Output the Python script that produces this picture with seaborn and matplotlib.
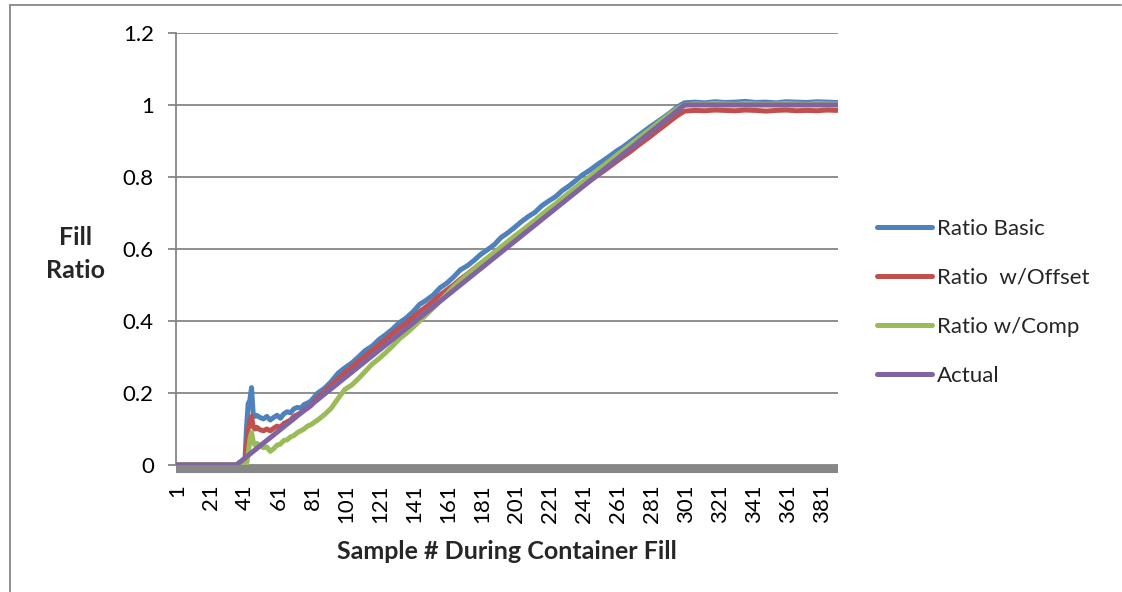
import numpy as np
import pandas as pd
import matplotlib
matplotlib.use("Agg")
import matplotlib.pyplot as plt
import seaborn as sns
from matplotlib.lines import Line2D

# ---------------- data ----------------
sample_idx = ([1, 40, 41, 42, 43, 44, 45, 46, 47, 48, 50, 52, 54, 56, 58, 60, 62, 64, 66, 68,
               70, 72, 74, 76, 78, 80]
              + list(range(84, 301, 4))
              + list(range(306, 391, 6)))

ratio_basic = [0, 0, 0, 0.10, 0.17, 0.18, 0.215, 0.14, 0.135, 0.138, 0.132, 0.128, 0.135, 0.125,
               0.132, 0.138, 0.130, 0.142, 0.148, 0.145, 0.156, 0.160, 0.158, 0.168, 0.172, 0.178,
               0.200, 0.213, 0.232, 0.255, 0.270, 0.283, 0.300, 0.318, 0.330, 0.348, 0.362, 0.377,
               0.395, 0.408, 0.425, 0.446, 0.458, 0.472, 0.492, 0.505, 0.522, 0.542, 0.553, 0.568,
               0.585, 0.598, 0.612, 0.632, 0.645, 0.660, 0.676, 0.690, 0.702, 0.720, 0.733, 0.745,
               0.762, 0.775, 0.790, 0.806, 0.818, 0.832, 0.845, 0.858, 0.872, 0.884, 0.898, 0.912,
               0.926, 0.940, 0.953, 0.966, 0.980, 0.995, 1.006,
               1.008, 1.006, 1.009, 1.007, 1.008, 1.010, 1.007, 1.008, 1.006, 1.009, 1.008, 1.007,
               1.009, 1.008, 1.007]

ratio_offset = [0, 0, 0, 0.05, 0.10, 0.12, 0.135, 0.105, 0.100, 0.105, 0.098, 0.095, 0.100, 0.095,
                0.102, 0.108, 0.105, 0.115, 0.120, 0.125, 0.135, 0.140, 0.145, 0.152, 0.158, 0.165,
                0.187, 0.203, 0.222, 0.240, 0.256, 0.272, 0.288, 0.303, 0.318, 0.334, 0.348, 0.365,
                0.380, 0.394, 0.410, 0.426, 0.440, 0.455, 0.472, 0.486, 0.500, 0.516, 0.530, 0.545,
                0.560, 0.574, 0.590, 0.603, 0.618, 0.633, 0.647, 0.662, 0.676, 0.690, 0.704, 0.718,
                0.733, 0.746, 0.760, 0.775, 0.788, 0.802, 0.815, 0.829, 0.843, 0.857, 0.870, 0.885,
                0.899, 0.913, 0.928, 0.942, 0.957, 0.971, 0.983,
                0.985, 0.984, 0.986, 0.985, 0.984, 0.986, 0.985, 0.983, 0.985, 0.986, 0.984, 0.985,
                0.984, 0.986, 0.985]

ratio_comp = [0, 0, 0, 0, 0.03, 0.07, 0.09, 0.065, 0.055, 0.060, 0.055, 0.048, 0.050, 0.038,
              0.045, 0.055, 0.058, 0.068, 0.070, 0.078, 0.082, 0.090, 0.095, 0.100, 0.108, 0.112,
              0.125, 0.140, 0.158, 0.185, 0.210, 0.222, 0.240, 0.260, 0.280, 0.295, 0.312, 0.330,
              0.350, 0.365, 0.382, 0.400, 0.418, 0.436, 0.455, 0.475, 0.495, 0.512, 0.528, 0.544,
              0.560, 0.575, 0.590, 0.606, 0.621, 0.636, 0.650, 0.665, 0.680, 0.696, 0.711, 0.725,
              0.741, 0.756, 0.771, 0.786, 0.800, 0.815, 0.830, 0.845, 0.860, 0.874, 0.889, 0.904,
              0.919, 0.933, 0.948, 0.962, 0.977, 0.990, 1.000,
              1.003, 1.002, 1.004, 1.003, 1.002, 1.004, 1.003, 1.002, 1.003, 1.004, 1.003, 1.002,
              1.004, 1.003, 1.003]

actual_idx = [1, 36, 300, 390]
actual_vals = [0, 0, 1, 1]

series_names = ["Ratio Basic", "Ratio  w/Offset", "Ratio w/Comp", "Actual"]
colors = ["#4F81BD", "#C0504D", "#9BBB59", "#8064A2"]
x_ticks = list(range(1, 382, 20))
y_ticks = [0, 0.2, 0.4, 0.6, 0.8, 1, 1.2]
y_tick_labels = ["0", "0.2", "0.4", "0.6", "0.8", "1", "1.2"]

# ---------------- figure ----------------
sns.set_theme(style="white")
plt.rcParams["font.family"] = ["Lato", "DejaVu Sans"]

FS = 16
FSB = 18
W, H = 1122, 592
fig = plt.figure(figsize=(W / 100, H / 100), dpi=100)
ax = fig.add_axes([176 / W, 1 - 465 / H, (838 - 176) / W, (465 - 33) / H])

frames = []
for name, vals in zip(series_names[:3], [ratio_basic, ratio_offset, ratio_comp]):
    frames.append(pd.DataFrame({"sample": sample_idx, "ratio": vals, "series": name}))
frames.append(pd.DataFrame({"sample": actual_idx, "ratio": actual_vals, "series": "Actual"}))
df = pd.concat(frames, ignore_index=True)

sns.lineplot(data=df, x="sample", y="ratio", hue="series", hue_order=series_names,
             palette=colors, linewidth=3.6, ax=ax, legend=False, sort=False,
             solid_capstyle="round", solid_joinstyle="round", zorder=3)

ax.set_xlim(0.5, 390.5)
ax.set_ylim(0, 1.2)
ax.set_yticks(y_ticks)
ax.set_yticklabels(y_tick_labels)
ax.set_xticks(x_ticks)
ax.set_xticklabels([str(t) for t in x_ticks])

grid_c = "#868686"
ax.yaxis.grid(True, color=grid_c, linewidth=1.3, zorder=0)
ax.xaxis.grid(False)
for s in ["top", "right"]:
    ax.spines[s].set_visible(False)
ax.spines["left"].set_color(grid_c)
ax.spines["left"].set_linewidth(1.3)
ax.spines["bottom"].set_color("#878787")
ax.spines["bottom"].set_linewidth(5.8)
ax.spines["bottom"].set_position(("outward", 3))
ax.spines["bottom"].set_capstyle("butt")

ax.tick_params(axis="y", which="major", left=True, length=6, width=1.3, color=grid_c,
               labelsize=FS, pad=10, labelcolor="black")
ax.tick_params(axis="x", which="major", bottom=False, labelsize=FS, pad=5,
               labelcolor="black", labelrotation=90)

ax.set_xlabel("Sample # During Container Fill", fontsize=FSB, fontweight="bold", labelpad=12)
ax.set_ylabel("")
fig.text(76 / W, 1 - 254 / H, "Fill\nRatio", fontsize=FSB, fontweight="bold",
         ha="center", va="center", linespacing=1.5)

handles = [Line2D([0], [0], color=c, linewidth=3.6, solid_capstyle="round") for c in colors]
leg = fig.legend(handles, series_names, loc="upper left", bbox_to_anchor=(868 / W, 1 - 210 / H),
                 frameon=False, fontsize=FS, handlelength=2.5, handletextpad=0.2,
                 labelspacing=1.3, borderaxespad=0)

# chart border
fig.add_artist(Line2D([10 / W, 10 / W], [0, 1 - 4.5 / H], transform=fig.transFigure,
                      color="#868686", linewidth=1.3))
fig.add_artist(Line2D([10 / W, 1121 / W], [1 - 4.5 / H, 1 - 4.5 / H], transform=fig.transFigure,
                      color="#868686", linewidth=1.3))

fig.savefig("out.png", dpi=100)
